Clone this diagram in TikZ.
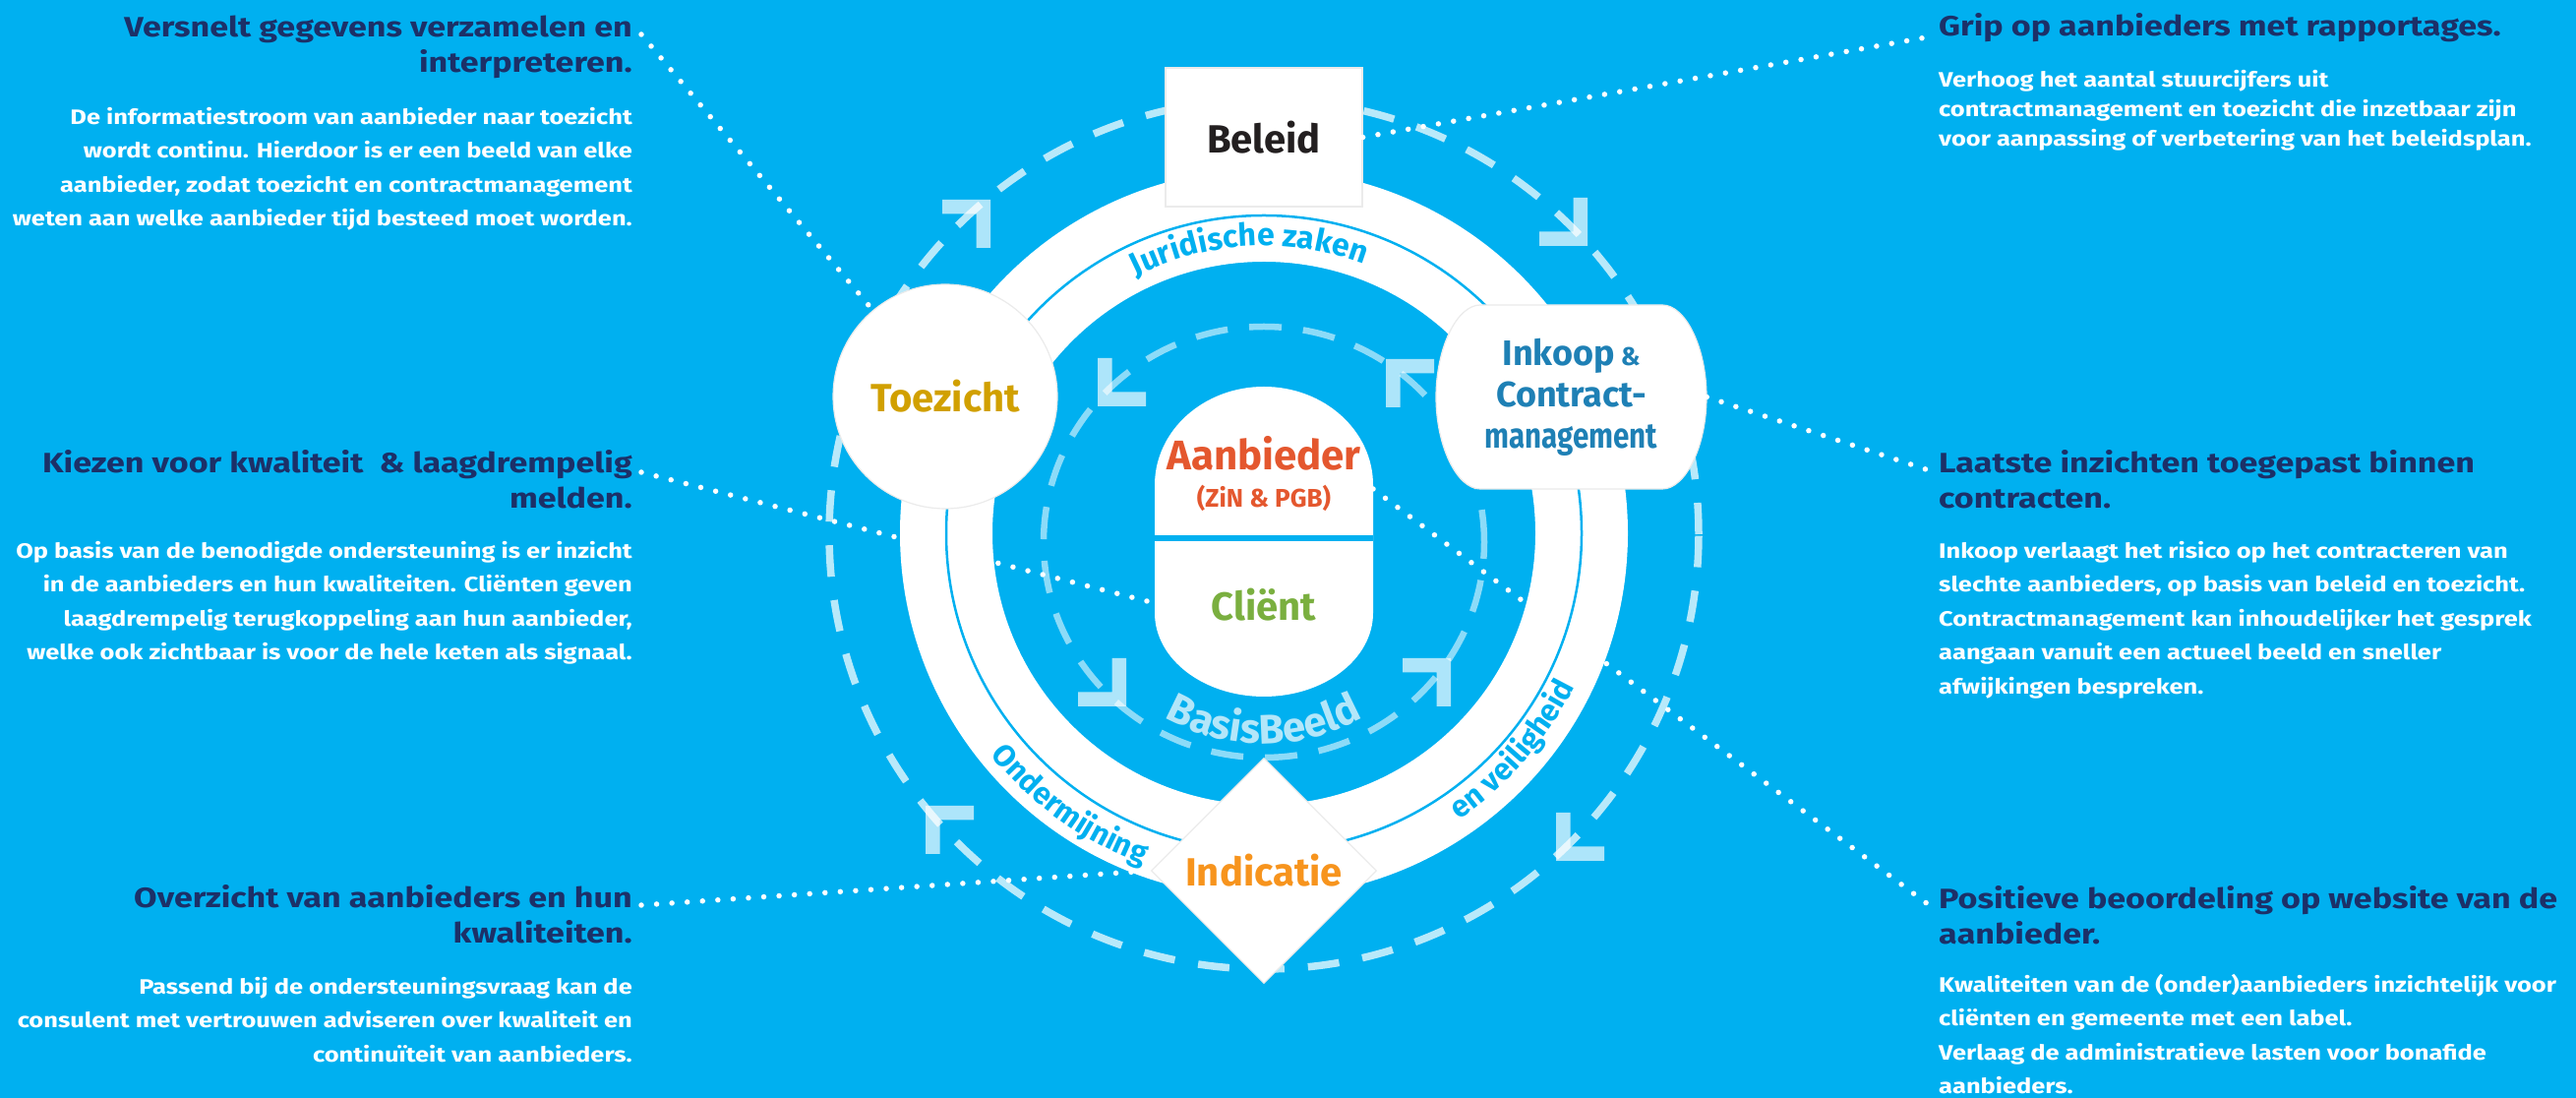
\documentclass[tikz,border=0pt]{standalone}
\usepackage{fontspec}
\usepackage{graphicx}
\setmainfont{Fira Sans}
\newfontfamily\blockfont[FakeStretch=1.2]{Fira Sans}
\usetikzlibrary{shapes.geometric,shapes.misc,decorations.text}
\definecolor{bgblue}{HTML}{00B0F0}
\definecolor{navy}{HTML}{1C3068}
\definecolor{goldc}{HTML}{D1A000}
\definecolor{aanc}{HTML}{E4572E}
\definecolor{clic}{HTML}{7AAF3F}
\definecolor{inkc}{HTML}{1E80B5}
\definecolor{indc}{HTML}{F7941D}
\definecolor{belc}{HTML}{231F20}
\definecolor{basisc}{HTML}{B3E6F9}
\definecolor{edgec}{HTML}{EBEBEB}
\newcommand{\ringfont}{\bfseries\fontsize{31}{31}\selectfont}
\newcommand{\chev}[4]{\fill[chevfill] (#1,#2) -- ++({-(#3)*49},0) -- ++(0,{-(#4)*14.5}) -- ++({(#3)*34.5},0) -- ++(0,{-(#4)*34.5}) -- ++({(#3)*14.5},0) -- cycle;}
\begin{document}
\begin{tikzpicture}[x=1pt,y=1pt,
  head/.style={font=\blockfont\bfseries\fontsize{28.4}{36.5}\selectfont, text=navy, inner sep=0pt},
  bodytxt/.style={font=\blockfont\bfseries\fontsize{21.2}{34.6}\selectfont, text=white, inner sep=0pt},
  bodytight/.style={font=\blockfont\bfseries\fontsize{21.2}{30}\selectfont, text=white, inner sep=0pt},
  dotline/.style={white, line width=5.5pt, line cap=round, dash pattern=on 0pt off 15.6pt},
  outerdash/.style={white, draw opacity=0.72, line width=7.5pt, dash pattern=on 32pt off 24pt},
  innerdash/.style={white, draw opacity=0.55, line width=6.5pt, dash pattern=on 33pt off 22pt},
  chevfill/.style={fill=white, fill opacity=0.68},
  whitenode/.style={fill=white, draw=edgec, line width=1.2pt, inner sep=0pt},
  nodefont/.style={font=\bfseries\fontsize{40}{44}\selectfont},
]
\useasboundingbox (0,0) rectangle (2619,1116);
\fill[bgblue] (0,0) rectangle (2619,1116);

% outer dashed cycle with chevrons
\draw[outerdash] (1285,573) circle[radius=442];
\chev{1007}{913}{1}{1}
\chev{1614}{866}{1}{-1}
\chev{1582}{241}{-1}{-1}
\chev{941}{297}{-1}{1}

% white ring
\draw[white, line width=94pt] (1285,574) circle[radius=323];
\draw[bgblue, line width=2.5pt] (1285,574) circle[radius=323];

% inner dashed cycle
\draw[innerdash] (1285,565) ellipse[x radius=224, y radius=219];
\chev{1116}{703}{-1}{-1}
\chev{1409}{751}{-1}{1}
\chev{1145}{398}{1}{-1}
\chev{1475}{447}{1}{1}
\path[decorate, decoration={text along path, text={|\bfseries\fontsize{42}{42}\selectfont|BasisBeeld}, text align=center, text color=basisc}]
  (1285,565) ++(225:205) arc[start angle=225, end angle=315, radius=205];

% pill
\fill[white] (1174,623) arc[start angle=180, end angle=0, x radius=111, y radius=100] -- (1396,493) arc[start angle=0, end angle=-180, x radius=111, y radius=85] -- cycle;
\draw[bgblue, line width=6pt] (1174,569) -- (1396,569);
\coordinate (pillL) at (1174,503);
\coordinate (pillR) at (1396,619);
\node[text=aanc, font=\bfseries\fontsize{42}{42}\selectfont, inner sep=0pt] (aanbieder) at (1285,655) {Aanbieder};
\node[text=aanc, font=\bfseries\fontsize{26}{26}\selectfont, inner sep=0pt] (zin) at (1285,610) {(ZiN \& PGB)};
\node[text=clic, font=\bfseries\fontsize{40}{40}\selectfont, inner sep=0pt] (client) at (1285,501) {Cliënt};

% main nodes
\node[whitenode, rectangle, minimum width=200pt, minimum height=141pt, text=belc, nodefont] (beleid) at (1285,976.5) {Beleid};
\node[whitenode, circle, minimum size=228pt, text=goldc, nodefont] (toezicht) at (961,713) {Toezicht};
\fill[white, draw=edgec, line width=1.2pt] (1505,806) -- (1690,806)
  .. controls (1714,806) and (1735,762) .. (1735,712.5)
  .. controls (1735,663) and (1714,619) .. (1690,619) -- (1505,619)
  .. controls (1481,619) and (1460,663) .. (1460,712.5)
  .. controls (1460,762) and (1481,806) .. (1505,806) -- cycle;
\node[rectangle, minimum width=275pt, minimum height=187pt, inner sep=0pt, text=inkc, align=center, font=\bfseries\fontsize{36}{42}\selectfont] (inkoop) at (1597.5,712.5) {Inkoop\,{\fontsize{26}{26}\selectfont\&}\\Contract-\\\scalebox{0.82}[1]{management}};
\node[whitenode, diamond, minimum size=229pt, text=indc, nodefont] (indicatie) at (1285,231) {Indicatie};

% ring labels
\path[decorate, decoration={text along path, text={|\bfseries\fontsize{32}{32}\selectfont|Juridische zaken}, text align=center, text color=bgblue}]
  (1285,574) ++(124:292) arc[start angle=124, end angle=62, radius=292];
\path[decorate, decoration={text along path, text={|\ringfont|Ondermijning}, text align=center, text color=bgblue}]
  (1285,574) ++(200:358) arc[start angle=200, end angle=269, radius=358];
\path[decorate, decoration={text along path, text={|\ringfont|en veiligheid}, text align=center, text color=bgblue}]
  (1285,574) ++(290:352) arc[start angle=290, end angle=348, radius=352];

% connector ends
\coordinate (c1) at (652,1081);
\coordinate (c2) at (1964,1079);
\coordinate (c3) at (652,636);
\coordinate (c4) at (652,196);
\coordinate (c5) at (1964,637);
\coordinate (c6) at (1964,194);
\draw[dotline] (c1) -- (toezicht);
\draw[dotline] (beleid.east) -- (c2);
\draw[dotline] (c3) -- (pillL);
\draw[dotline] (c4) -- (indicatie.west);
\draw[dotline] (inkoop.east) -- (c5);
\draw[dotline] (pillR) -- (c6);

% text blocks
\node[head, anchor=north east, align=right] (h1) at (643,1109) {\rule{0pt}{30pt}Versnelt gegevens verzamelen en\\interpreteren.};
\node[bodytxt, anchor=north east, align=right] (b1) at (643,1014) {\rule{0pt}{24pt}De informatiestroom van aanbieder naar toezicht\\wordt continu. Hierdoor is er een beeld van elke\\aanbieder, zodat toezicht en contractmanagement\\weten aan welke aanbieder tijd besteed moet worden.};

\node[head, anchor=north west, align=left] (h2) at (1971,1110) {\rule{0pt}{30pt}Grip op aanbieders met rapportages.};
\node[bodytight, anchor=north west, align=left] (b2) at (1971,1052) {\rule{0pt}{24pt}Verhoog het aantal stuurcijfers uit\\contractmanagement en toezicht die inzetbaar zijn\\voor aanpassing of verbetering van het beleidsplan.};

\node[head, anchor=north east, align=right] (h3) at (643,666) {\rule{0pt}{30pt}Kiezen voor kwaliteit\ \ \& laagdrempelig\\melden.};
\node[bodytxt, anchor=north east, align=right] (b3) at (643,573) {\rule{0pt}{24pt}Op basis van de benodigde ondersteuning is er inzicht\\in de aanbieders en hun kwaliteiten. Cliënten geven\\laagdrempelig terugkoppeling aan hun aanbieder,\\welke ook zichtbaar is voor de hele keten als signaal.};

\node[head, anchor=north west, align=left] (h4) at (1971,666) {\rule{0pt}{30pt}Laatste inzichten toegepast binnen\\contracten.};
\node[bodytxt, anchor=north west, align=left] (b4) at (1971,573) {\rule{0pt}{24pt}Inkoop verlaagt het risico op het contracteren van\\slechte aanbieders, op basis van beleid en toezicht.\\Contractmanagement kan inhoudelijker het gesprek\\aangaan vanuit een actueel beeld en sneller\\afwijkingen bespreken.};

\node[head, anchor=north east, align=right] (h5) at (643,224) {\rule{0pt}{30pt}Overzicht van aanbieders en hun\\kwaliteiten.};
\node[bodytxt, anchor=north east, align=right] (b5) at (643,130) {\rule{0pt}{24pt}Passend bij de ondersteuningsvraag kan de\\consulent met vertrouwen adviseren over kwaliteit en\\continuïteit van aanbieders.};

\node[head, anchor=north west, align=left] (h6) at (1971,223) {\rule{0pt}{30pt}Positieve beoordeling op website van de\\aanbieder.};
\node[bodytxt, anchor=north west, align=left] (b6) at (1971,132) {\rule{0pt}{24pt}Kwaliteiten van de (onder)aanbieders inzichtelijk voor\\cliënten en gemeente met een label.\\Verlaag de administratieve lasten voor bonafide\\aanbieders.};
\end{tikzpicture}
\end{document}
